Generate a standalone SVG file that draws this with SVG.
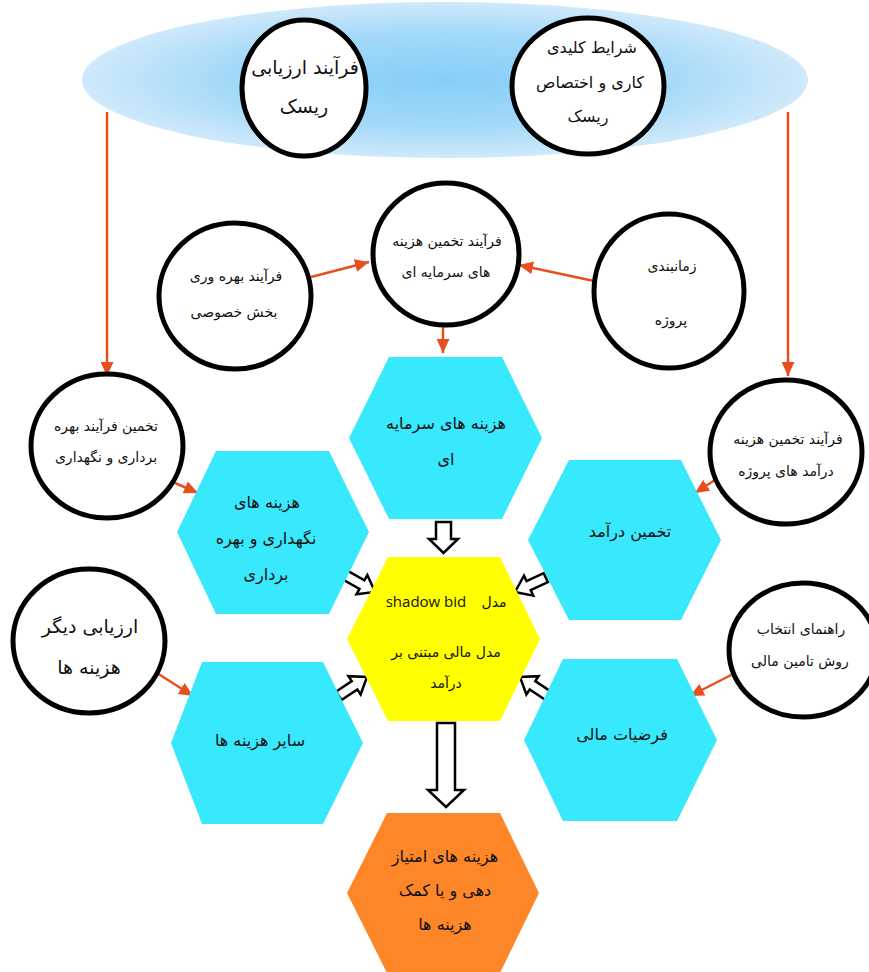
<svg xmlns="http://www.w3.org/2000/svg" xmlns:xlink="http://www.w3.org/1999/xlink" width="869" height="972" viewBox="0 0 869 972">
<defs>
<radialGradient id="gBlue" cx="0.5" cy="0.5" r="0.5">
<stop offset="0" stop-color="#86CEF8"/>
<stop offset="0.6" stop-color="#A3D9F8"/>
<stop offset="1" stop-color="#CFE9FB"/>
</radialGradient>
<marker id="rh" markerUnits="userSpaceOnUse" markerWidth="15" markerHeight="13" refX="14" refY="6.5" orient="auto">
<path d="M0,0 L14,6.5 L0,13 Z" fill="#E94E1F"/>
</marker>
<path id="barrow" d="M-34,-5 L-15,-5 L-15,-11 L0,0 L-15,11 L-15,5 L-34,5 Z"/>
<style>
.c{fill:#fff;stroke:#000;stroke-width:5}
.hex{fill:#38E9FD}
.t{font-family:"DejaVu Sans",sans-serif;fill:#111;text-anchor:middle}
.s13{font-size:14px}
.s15{font-size:16px}
.s19{font-size:19px}
.red{stroke:#E94E1F;stroke-width:2.5;fill:none;marker-end:url(#rh)}
.blk{fill:#fff;stroke:#000;stroke-width:2.5}
</style>
</defs>
<rect width="869" height="972" fill="#fff"/>
<g id="risk-band">
<ellipse cx="445" cy="80" rx="363" ry="78" fill="url(#gBlue)"/>
</g>
<g id="connectors">
<line class="red" x1="107" y1="112" x2="107" y2="376"/>
<line class="red" x1="788" y1="112" x2="788" y2="376"/>
<line class="red" x1="311" y1="277" x2="369" y2="262"/>
<line class="red" x1="594" y1="281" x2="519" y2="265"/>
<line class="red" x1="443" y1="323" x2="443" y2="353"/>
<line class="red" x1="175" y1="483" x2="198" y2="493"/>
<line class="red" x1="718" y1="478" x2="695" y2="493"/>
<line class="red" x1="157" y1="673" x2="193" y2="696"/>
<line class="red" x1="737" y1="672" x2="690" y2="696"/>
<path class="blk" d="M436,522 L451,522 L451,539 L458,539 L443.5,553 L429,539 L436,539 Z"/>
<path class="blk" d="M437,723 L455,723 L455,790 L464,790 L446,807 L428,790 L437,790 Z"/>
<use href="#barrow" class="blk" transform="translate(375,592) rotate(29.5)"/>
<use href="#barrow" class="blk" transform="translate(515,592) rotate(155)"/>
<use href="#barrow" class="blk" transform="translate(367,677) rotate(-33.7)"/>
<use href="#barrow" class="blk" transform="translate(520,677) rotate(213.7)"/>
</g>
<g id="n-risk-eval">
<ellipse class="c" cx="304" cy="88" rx="62" ry="68"/>
<text class="t s19" x="305" y="74">فرآیند ارزیابی</text>
<text class="t s19" x="304" y="113">ریسک</text>
</g>
<g id="n-key-conditions">
<ellipse class="c" cx="588" cy="86" rx="76" ry="68"/>
<text class="t s15" x="592" y="53">شرایط کلیدی</text>
<text class="t s15" x="590" y="88">کاری و اختصاص</text>
<text class="t s15" x="588" y="122">ریسک</text>
</g>
<g id="n-private">
<ellipse class="c" cx="235" cy="296" rx="76" ry="73"/>
<text class="t s13" x="236" y="281">فرآیند بهره وری</text>
<text class="t s13" x="234" y="317">بخش خصوصی</text>
</g>
<g id="n-capex-process">
<ellipse class="c" cx="446" cy="254" rx="73" ry="71"/>
<text class="t s13" x="447" y="246">فرآیند تخمین هزینه</text>
<text class="t s13" x="446" y="277">های سرمایه ای</text>
</g>
<g id="n-schedule">
<ellipse class="c" cx="669" cy="291" rx="75" ry="77"/>
<text class="t s13" x="672" y="271">زمانبندی</text>
<text class="t s13" x="671" y="325">پروژه</text>
</g>
<g id="n-opex-process">
<ellipse class="c" cx="107" cy="446" rx="76" ry="72"/>
<text class="t s13" x="106" y="431">تخمین فرآیند بهره</text>
<text class="t s13" x="106" y="462">برداری و نگهداری</text>
</g>
<g id="n-revenue-process">
<ellipse class="c" cx="786" cy="452" rx="76" ry="72"/>
<text class="t s13" x="788" y="444">فرآیند تخمین هزینه</text>
<text class="t s13" x="786" y="476">درآمد های پروژه</text>
</g>
<g id="n-other-eval">
<ellipse class="c" cx="89" cy="641" rx="76" ry="72"/>
<text class="t s19" x="90" y="633">ارزیابی دیگر</text>
<text class="t s19" x="89" y="674">هزینه ها</text>
</g>
<g id="n-finance-guide">
<ellipse class="c" cx="803" cy="650" rx="74" ry="67"/>
<text class="t s13" x="801" y="634">راهنمای انتخاب</text>
<text class="t s13" x="800" y="666">روش تامین مالی</text>
</g>
<g id="h-capex">
<polygon class="hex" points="389,357 502,357 542,438 502,519 389,519 349,438"/>
<text class="t s15" x="446" y="429">هزینه های سرمایه</text>
<text class="t s15" x="446" y="465">ای</text>
</g>
<g id="h-opex">
<polygon class="hex" points="216,451 329,451 369,532 329,614 216,614 177,532"/>
<text class="t s15" x="267" y="508">هزینه های</text>
<text class="t s15" x="266" y="544">نگهداری و بهره</text>
<text class="t s15" x="266" y="580">برداری</text>
</g>
<g id="h-revenue">
<polygon class="hex" points="569,460 681,460 721,540 681,620 569,620 528,540"/>
<text class="t s15" x="630" y="537">تخمین درآمد</text>
</g>
<g id="h-model">
<polygon points="388,557 500,557 540,639 500,721 388,721 347,639" fill="#FFFF00"/>
<text x="426" y="607" font-family="'Open Sans','Liberation Sans',sans-serif" font-size="15" fill="#111" text-anchor="middle">shadow bid</text>
<text class="t s13" x="494" y="607">مدل</text>
<text class="t s13" x="446" y="657">مدل مالی مبتنی بر</text>
<text class="t s13" x="446" y="688">درآمد</text>
</g>
<g id="h-other">
<polygon class="hex" points="202,662 323,662 363,743 323,824 202,824 171,743"/>
<text class="t s15" x="260" y="746">سایر هزینه ها</text>
</g>
<g id="h-finance">
<polygon class="hex" points="563,659 677,659 717,740 677,821 563,821 524,740"/>
<text class="t s15" x="622" y="740">فرضیات مالی</text>
</g>
<g id="h-incentive">
<polygon points="387,813 500,813 539,893 500,973 387,973 347,893" fill="#FD8628"/>
<text class="t s15" x="445" y="862">هزینه های امتیاز</text>
<text class="t s15" x="445" y="896">دهی و یا کمک</text>
<text class="t s15" x="445" y="930">هزینه ها</text>
</g>
</svg>
